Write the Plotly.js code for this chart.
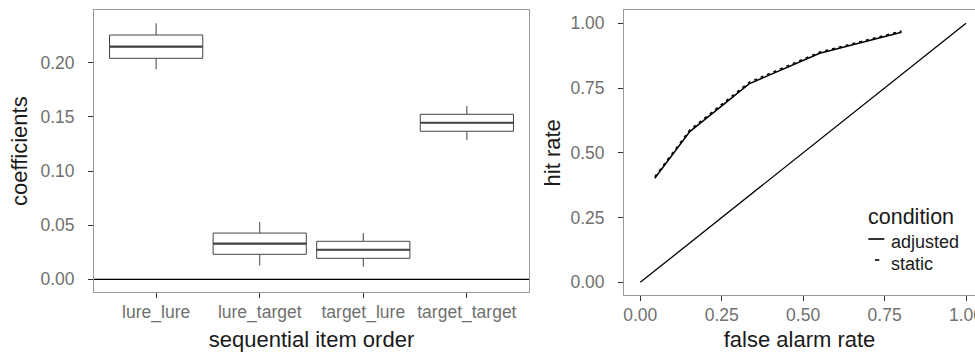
<!DOCTYPE html>
<html>
<head>
<meta charset="utf-8">
<script src="https://cdn.plot.ly/plotly-3.0.1.min.js"></script>
<style>html,body{margin:0;padding:0;background:#fff;}#chart{width:975px;height:354px;}</style>
</head>
<body>
<div id="chart"></div>
<script>
// ---- Left panel: box plot of coefficients ----
const categories = ['lure_lure', 'lure_target', 'target_lure', 'target_target'];
const lowerWhisker = [0.1939, 0.0127, 0.0116, 0.1286];
const q1Values     = [0.2041, 0.0231, 0.0194, 0.1367];
const medianValues = [0.2148, 0.0329, 0.0273, 0.1446];
const q3Values     = [0.2256, 0.0427, 0.0351, 0.1524];
const upperWhisker = [0.2364, 0.0529, 0.0427, 0.1600];
const coefTicks = [0, 0.05, 0.10, 0.15, 0.20];

// ---- Right panel: ROC curves ----
const falseAlarmAdjusted = [0.0445, 0.152, 0.334, 0.551, 0.802];
const hitAdjusted        = [0.4015, 0.582, 0.766, 0.884, 0.965];
const falseAlarmStatic   = [0.0445, 0.152, 0.334, 0.551, 0.802];
const hitStatic          = [0.4075, 0.588, 0.772, 0.889, 0.970];
const chanceX = [0, 1];
const chanceY = [0, 1];
const rateTicks = [0, 0.25, 0.5, 0.75, 1.0];
const legendTitle = 'condition';
const conditionNames = ['adjusted', 'static'];

const W = 975, H = 354;
const px = v => v / W;
const py = v => (H - v) / H;

const FONT = 'Liberation Sans, Arial, sans-serif';
const tickFont = {family: FONT, size: 17.5, color: '#707070'};
const titleFont = {family: FONT, size: 22, color: '#1a1a1a'};

const boxHalf = 0.45;
const medX = [], medY = [];
categories.forEach((c, i) => {
  medX.push(i - boxHalf, i + boxHalf, null);
  medY.push(medianValues[i], medianValues[i], null);
});

const traces = [
  {
    type: 'box', xaxis: 'x', yaxis: 'y',
    x: categories.map((c, i) => i),
    q1: q1Values, median: medianValues, q3: q3Values,
    lowerfence: lowerWhisker, upperfence: upperWhisker,
    width: 0.9, whiskerwidth: 0, boxpoints: false,
    fillcolor: '#ffffff', line: {color: '#444444', width: 1},
    hoverinfo: 'skip', showlegend: false
  },
  {
    type: 'scatter', mode: 'lines', xaxis: 'x', yaxis: 'y',
    x: medX, y: medY, line: {color: '#444444', width: 2.2},
    hoverinfo: 'skip', showlegend: false
  },
  {
    type: 'scatter', mode: 'lines', xaxis: 'x2', yaxis: 'y2',
    x: chanceX, y: chanceY, line: {color: '#000000', width: 1.3},
    hoverinfo: 'skip', showlegend: false
  },
  {
    type: 'scatter', mode: 'lines', xaxis: 'x2', yaxis: 'y2', name: conditionNames[0],
    x: falseAlarmAdjusted, y: hitAdjusted, line: {color: '#000000', width: 1.5},
    showlegend: false
  },
  {
    type: 'scatter', mode: 'lines', xaxis: 'x2', yaxis: 'y2', name: conditionNames[1],
    x: falseAlarmStatic, y: hitStatic, line: {color: '#000000', width: 1.5, dash: '3px,4px'},
    showlegend: false
  }
];

const axisCommon = {
  showline: true, mirror: true, linecolor: '#999999', linewidth: 1,
  ticks: 'outside', ticklen: 5, tickcolor: '#333333', tickwidth: 1,
  showgrid: false, zeroline: false, tickfont: tickFont, automargin: false,
  ticklabeloverflow: 'allow', fixedrange: true
};

const layout = {
  width: W, height: H,
  margin: {l: 0, r: 0, t: 0, b: 0},
  paper_bgcolor: '#ffffff', plot_bgcolor: '#ffffff',
  showlegend: false,
  xaxis: Object.assign({}, axisCommon, {
    domain: [px(94), px(529)], range: [-0.6, 3.6],
    tickvals: categories.map((c, i) => i), ticktext: categories,
    ticklabelstandoff: -1,
    title: {text: 'sequential item order', font: titleFont, standoff: 9}
  }),
  yaxis: Object.assign({}, axisCommon, {
    domain: [py(292.3), py(10)], range: [-0.012, 0.2487],
    tickvals: coefTicks, tickformat: '.2f',
    ticklabelstandoff: 10,
    title: {text: 'coefficients', font: titleFont, standoff: 6}
  }),
  xaxis2: Object.assign({}, axisCommon, {
    anchor: 'y2',
    domain: [px(624), 1], range: [-0.05, 1.0276],
    tickvals: rateTicks, tickformat: '.2f',
    ticklabelstandoff: -1,
    title: {text: 'false alarm rate', font: titleFont, standoff: 7}
  }),
  yaxis2: Object.assign({}, axisCommon, {
    anchor: 'x2',
    domain: [py(295.3), py(10.3)], range: [-0.05, 1.05],
    tickvals: rateTicks, tickformat: '.2f',
    ticklabelstandoff: 10,
    title: {text: 'hit rate', font: titleFont, standoff: 3}
  }),
  shapes: [
    {type: 'line', xref: 'x domain', yref: 'y', x0: 0, x1: 1, y0: 0, y1: 0,
     line: {color: '#000000', width: 1.2}},
    // legend keys
    {type: 'line', xref: 'paper', yref: 'paper', x0: px(868.3), x1: px(884.3), y0: py(239), y1: py(239),
     line: {color: '#000000', width: 1.6}},
    {type: 'line', xref: 'paper', yref: 'paper', x0: px(875), x1: px(879.3), y0: py(260), y1: py(260),
     line: {color: '#000000', width: 1.6}}
  ],
  annotations: [
    {xref: 'paper', yref: 'paper', x: px(866), y: py(216.5), xanchor: 'left', yanchor: 'middle',
     text: legendTitle, showarrow: false, font: {family: FONT, size: 21.5, color: '#1a1a1a'}},
    {xref: 'paper', yref: 'paper', x: px(888.5), y: py(242), xanchor: 'left', yanchor: 'middle',
     text: conditionNames[0], showarrow: false, font: {family: FONT, size: 18, color: '#1a1a1a'}},
    {xref: 'paper', yref: 'paper', x: px(888.5), y: py(264), xanchor: 'left', yanchor: 'middle',
     text: conditionNames[1], showarrow: false, font: {family: FONT, size: 18, color: '#1a1a1a'}}
  ]
};

Plotly.newPlot('chart', traces, layout, {displayModeBar: false, staticPlot: true});
</script>
</body>
</html>
